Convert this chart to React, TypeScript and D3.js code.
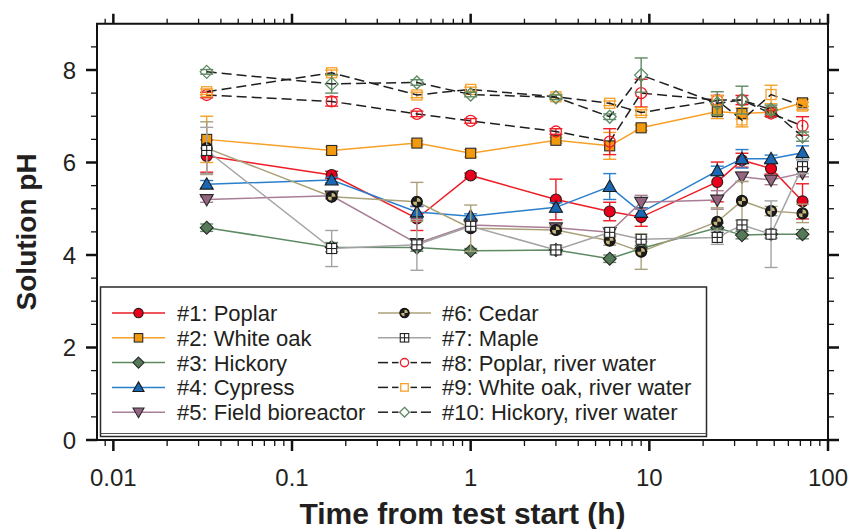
import React from 'react';
import * as d3 from 'd3';

// sampling times (h)
const times = [0.0333, 0.1667, 0.5, 1, 3, 6, 9, 24, 33, 48, 72];

// mean pH per series
const poplar = [6.14, 5.73, 4.79, 5.72, 5.2, 4.94, 4.82, 5.58, 6.05, 5.87, 5.16];
const whiteOak = [6.5, 6.26, 6.42, 6.2, 6.48, 6.36, 6.75, 7.1, 7.06, 7.09, 7.29];
const hickory = [4.59, 4.17, 4.16, 4.09, 4.11, 3.92, 4.14, 4.59, 4.43, 4.45, 4.45];
const cypress = [5.53, 5.62, 4.93, 4.84, 5.03, 5.48, 4.92, 5.82, 6.08, 6.08, 6.21];
const fieldBio = [5.2, 5.28, 4.25, 4.65, 4.59, 4.49, 5.14, 5.19, 5.69, 5.62, 5.77];
const cedar = [6.31, 5.26, 5.15, 4.58, 4.54, 4.31, 4.07, 4.72, 5.17, 4.95, 4.9];
const maple = [6.26, 4.14, 4.22, 4.62, 4.11, 4.49, 4.34, 4.38, 4.65, 4.45, 5.91];
const poplarRiver = [7.46, 7.32, 7.05, 6.9, 6.67, 6.45, 7.5, 7.35, 7.35, 7.06, 6.79];
const whiteOakRiver = [7.53, 7.94, 7.46, 7.58, 7.42, 7.28, 7.08, 7.34, 6.92, 7.47, 7.22];
const hickoryRiver = [7.96, 7.7, 7.73, 7.47, 7.41, 6.99, 7.89, 7.28, 7.35, 7.14, 6.56];

// error bar half-lengths
const poplarErr = [0.35, 0.08, 0.26, 0.05, 0.44, 0.2, 0.2, 0.43, 0.15, 0.12, 0.38];
const whiteOakErr = [0.5, 0.08, 0.05, 0.08, 0.06, 0.29, 0.06, 0.15, 0.12, 0.1, 0.08];
const hickoryErr = [0.08, 0.1, 0.08, 0.05, 0.06, 0.08, 0.06, 0.1, 0.08, 0.08, 0.1];
const cypressErr = [0.08, 0.06, 0.12, 0.05, 0.1, 0.28, 0.1, 0.1, 0.2, 0.08, 0.15];
const fieldBioErr = [0.06, 0.05, 0.08, 0.05, 0.06, 0.06, 0.15, 0.2, 0.1, 0.1, 0.08];
const cedarErr = [0.57, 0.05, 0.42, 0.5, 0.08, 0.1, 0.38, 0.3, 0.42, 0.1, 0.2];
const mapleErr = [0.5, 0.39, 0.55, 0.08, 0.1, 0.1, 0.05, 0.15, 0.1, 0.72, 0.15];
const poplarRiverErr = [0.06, 0.1, 0.06, 0.05, 0.06, 0.28, 0.3, 0.1, 0.1, 0.06, 0.2];
const whiteOakRiverErr = [0.06, 0.06, 0.06, 0.05, 0.05, 0.05, 0.06, 0.1, 0.15, 0.2, 0.08];
const hickoryRiverErr = [0.05, 0.2, 0.06, 0.05, 0.05, 0.06, 0.37, 0.25, 0.3, 0.1, 0.1];

const labels = [
  '#1: Poplar', '#2: White oak', '#3: Hickory', '#4: Cypress', '#5: Field bioreactor',
  '#6: Cedar', '#7: Maple', '#8: Poplar, river water', '#9: White oak, river water', '#10: Hickory, river water',
];

const xMajor = [0.01, 0.1, 1, 10, 100];
const xTickLabels = ['0.01', '0.1', '1', '10', '100'];
const yMajor = [0, 2, 4, 6, 8];

type S = {
  vals: number[]; err: number[]; line: string; fill: string; stroke: string;
  marker: string; dashed?: boolean;
};

const series: S[] = [
  { vals: poplar, err: poplarErr, line: '#ee1c25', fill: '#e8001c', stroke: '#2a1a1a', marker: 'circle' },
  { vals: whiteOak, err: whiteOakErr, line: '#f7a028', fill: '#f29a0e', stroke: '#2a2a2a', marker: 'square' },
  { vals: hickory, err: hickoryErr, line: '#5e8a63', fill: '#557a58', stroke: '#2a2a2a', marker: 'diamond' },
  { vals: cypress, err: cypressErr, line: '#2a7fcc', fill: '#1a68b4', stroke: '#1a1a1a', marker: 'triangle' },
  { vals: fieldBio, err: fieldBioErr, line: '#a87e96', fill: '#946580', stroke: '#2a2a2a', marker: 'triangleDown' },
  { vals: cedar, err: cedarErr, line: '#aaa17a', fill: '#1c1c1c', stroke: '#111', marker: 'cedar' },
  { vals: maple, err: mapleErr, line: '#a3a3a3', fill: '#fff', stroke: '#222', marker: 'maple' },
  { vals: poplarRiver, err: poplarRiverErr, line: '#1f1f1f', fill: 'none', stroke: '#ee1c25', marker: 'circle', dashed: true },
  { vals: whiteOakRiver, err: whiteOakRiverErr, line: '#1f1f1f', fill: 'none', stroke: '#f7a028', marker: 'square', dashed: true },
  { vals: hickoryRiver, err: hickoryRiverErr, line: '#1f1f1f', fill: 'none', stroke: '#5e8a63', marker: 'diamond', dashed: true },
];

const W = 860, H = 529;
const L = 97, R = 828, T = 23.75, B = 440;
const font = '"Liberation Sans", Arial, sans-serif';
const textCol = '#231f20';

const x = d3.scaleLog().domain([0.0081, 100]).range([L, R]);
const y = d3.scaleLinear().domain([0, 9]).range([B, T]);

const wedge = d3.arc<any>();

function Marker({ s, cx, cy, k = 1 }: { s: S; cx: number; cy: number; k?: number }) {
  const sw = s.dashed ? 1.3 : 1.1;
  switch (s.marker) {
    case 'circle':
      return <circle cx={cx} cy={cy} r={5.5 * k} fill={s.fill} stroke={s.stroke} strokeWidth={sw} />;
    case 'square':
      return <rect x={cx - 5 * k} y={cy - 5 * k} width={10 * k} height={10 * k} fill={s.fill} stroke={s.stroke} strokeWidth={sw} />;
    case 'diamond': {
      const d = 6.5 * k;
      return <path d={`M${cx},${cy - d}L${cx + d},${cy}L${cx},${cy + d}L${cx - d},${cy}Z`} fill={s.fill} stroke={s.stroke} strokeWidth={sw} />;
    }
    case 'triangle': {
      const d = 6.5 * k;
      return <path d={`M${cx},${cy - d}L${cx + d},${cy + d * 0.75}L${cx - d},${cy + d * 0.75}Z`} fill={s.fill} stroke={s.stroke} strokeWidth={sw} />;
    }
    case 'triangleDown': {
      const d = 6.5 * k;
      return <path d={`M${cx},${cy + d}L${cx + d},${cy - d * 0.75}L${cx - d},${cy - d * 0.75}Z`} fill={s.fill} stroke={s.stroke} strokeWidth={sw} />;
    }
    case 'cedar': {
      const r = 5.5 * k;
      return (
        <g>
          <circle cx={cx} cy={cy} r={r} fill={s.fill} stroke={s.stroke} strokeWidth={sw} />
          <path transform={`translate(${cx},${cy})`} fill="#c8b67a"
            d={(wedge({ innerRadius: 0, outerRadius: r * 0.7, startAngle: 0, endAngle: Math.PI / 2 }) || '') +
              (wedge({ innerRadius: 0, outerRadius: r * 0.7, startAngle: Math.PI, endAngle: Math.PI * 1.5 }) || '')} />
        </g>
      );
    }
    case 'maple': {
      const h = 5 * k;
      return (
        <g stroke={s.stroke} strokeWidth={1.1}>
          <rect x={cx - h} y={cy - h} width={2 * h} height={2 * h} fill={s.fill} />
          <line x1={cx - h} x2={cx + h} y1={cy} y2={cy} />
          <line x1={cx} x2={cx} y1={cy - h} y2={cy + h} />
        </g>
      );
    }
  }
  return null;
}

function xMinorTicks(): number[] {
  const out: number[] = [];
  for (let e = -3; e <= 1; e++) {
    for (let m = 2; m <= 9; m++) {
      const v = m * Math.pow(10, e);
      if (v >= 0.0081 && v <= 100) out.push(v);
    }
  }
  return out;
}
const yMinor = d3.range(0.5, 9, 0.5).filter(v => v % 2 !== 0);

export default function App() {
  const lineGen = d3.line<number>()
    .x((_, i) => x(times[i]))
    .y(v => y(v));
  const cap = 6.5;
  const legendRows = [0, 1, 2, 3, 4];
  const rowY = (i: number) => 313 + i * 24.8;
  return (
    <svg width={W} height={H} style={{ position: 'absolute', left: 0, top: 0, background: '#fff' }} fontFamily={font}>
      <rect x={0} y={0} width={W} height={H} fill="#fff" />
      {/* series */}
      {series.map((s, si) => (
        <g key={si}>
          {s.vals.map((v, i) => (
            <g key={i} stroke={s.dashed ? s.stroke : s.line} strokeWidth={1.4}>
              <line x1={x(times[i])} x2={x(times[i])} y1={y(v - s.err[i])} y2={y(v + s.err[i])} />
              <line x1={x(times[i]) - cap} x2={x(times[i]) + cap} y1={y(v - s.err[i])} y2={y(v - s.err[i])} />
              <line x1={x(times[i]) - cap} x2={x(times[i]) + cap} y1={y(v + s.err[i])} y2={y(v + s.err[i])} />
            </g>
          ))}
          <path d={lineGen(s.vals) || ''} fill="none" stroke={s.line} strokeWidth={1.5}
            strokeDasharray={s.dashed ? '10,5' : undefined} />
          {s.vals.map((v, i) => (
            <Marker key={i} s={s} cx={x(times[i])} cy={y(v)} />
          ))}
        </g>
      ))}

      {/* legend */}
      <rect x={100.5} y={287} width={606} height={149.5} fill="#fff" stroke="#2a2a2a" strokeWidth={1.5} />
      <line x1={100.5} x2={706.5} y1={433.5} y2={433.5} stroke="#555" strokeWidth={1} />
      {series.map((s, si) => {
        const col = si < 5 ? 0 : 1;
        const row = legendRows[si % 5];
        const cy = rowY(row);
        const x0 = col === 0 ? 112 : 378;
        const x1 = col === 0 ? 165 : 431;
        const mx = (x0 + x1) / 2;
        const tx = col === 0 ? 177 : 442;
        return (
          <g key={si}>
            {s.dashed ? (
              <g stroke={s.line} strokeWidth={1.5}>
                <line x1={x0} x2={x0 + 10} y1={cy} y2={cy} />
                <line x1={x0 + 14} x2={mx - 6} y1={cy} y2={cy} />
                <line x1={mx + 6} x2={x1 - 14} y1={cy} y2={cy} />
                <line x1={x1 - 10} x2={x1} y1={cy} y2={cy} />
              </g>
            ) : (
              <line x1={x0} x2={x1} y1={cy} y2={cy} stroke={s.line} strokeWidth={1.5} />
            )}
            <Marker s={s} cx={mx} cy={cy} k={s.dashed ? 0.75 : 0.85} />
            <text x={tx} y={cy} dy="0.36em" fontSize={22} fill={textCol}>{labels[si]}</text>
          </g>
        );
      })}

      {/* frame */}
      <rect x={L} y={T} width={R - L} height={B - T} fill="none" stroke="#111" strokeWidth={2} />

      {/* x ticks bottom & top */}
      {xMajor.map(v => (
        <g key={'xm' + v} stroke="#111" strokeWidth={2.5}>
          <line x1={x(v)} x2={x(v)} y1={B} y2={B + 11} />
          <line x1={x(v)} x2={x(v)} y1={T} y2={T - 10} />
        </g>
      ))}
      {xMinorTicks().map(v => (
        <g key={'xn' + v} stroke="#111" strokeWidth={1.3}>
          <line x1={x(v)} x2={x(v)} y1={B} y2={B + 6} />
          <line x1={x(v)} x2={x(v)} y1={T} y2={T - 5} />
        </g>
      ))}
      {xMajor.map((v, i) => (
        <text key={'xl' + v} x={x(v)} y={486} textAnchor="middle" fontSize={24} fill={textCol}>{xTickLabels[i]}</text>
      ))}

      {/* y ticks left & right */}
      {yMajor.map(v => (
        <g key={'ym' + v} stroke="#111" strokeWidth={2.5}>
          <line x1={L} x2={L - 11} y1={y(v)} y2={y(v)} />
          <line x1={R} x2={R + 11} y1={y(v)} y2={y(v)} />
        </g>
      ))}
      {yMinor.map(v => (
        <g key={'yn' + v} stroke="#111" strokeWidth={1.3}>
          <line x1={L} x2={L - 6} y1={y(v)} y2={y(v)} />
          <line x1={R} x2={R + 6} y1={y(v)} y2={y(v)} />
        </g>
      ))}
      {yMajor.map(v => (
        <text key={'yl' + v} x={76} y={y(v)} dy="0.36em" textAnchor="end" fontSize={24} fill={textCol}>{v}</text>
      ))}

      {/* axis titles */}
      <text x={(L + R) / 2} y={524} textAnchor="middle" fontSize={30} fontWeight="bold" fill={textCol}>
        Time from test start (h)
      </text>
      <text transform={`translate(36,${(T + B) / 2}) rotate(-90)`} textAnchor="middle" fontSize={28} fontWeight="bold" fill={textCol}>
        Solution pH
      </text>
    </svg>
  );
}
